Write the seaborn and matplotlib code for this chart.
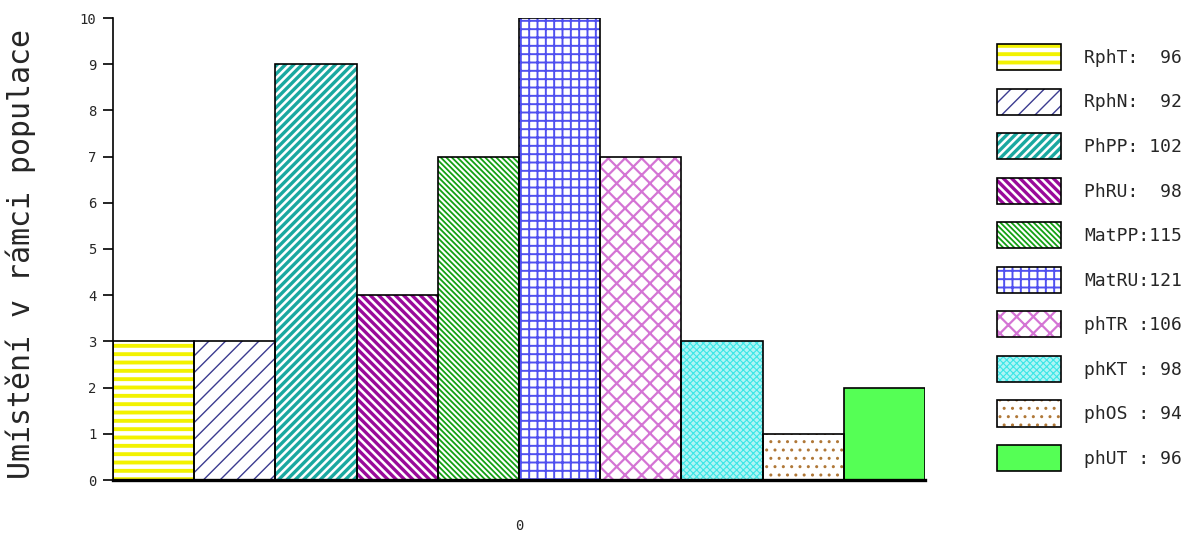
import pandas as pd
import matplotlib
matplotlib.use("Agg")
import matplotlib.pyplot as plt
import seaborn as sns
from matplotlib.patches import Patch, Rectangle
from matplotlib.legend_handler import HandlerTuple

sns.set_theme(style="white")
plt.rcParams["font.family"] = "DejaVu Sans Mono"
plt.rcParams["hatch.linewidth"] = 1.0

# data
skupina = "0"
kody = ["RphT", "RphN", "PhPP", "PhRU", "MatPP", "MatRU", "phTR", "phKT", "phOS", "phUT"]
poradi = [3, 3, 9, 4, 7, 10, 7, 3, 1, 2]
popisky = ["RphT:  96", "RphN:  92", "PhPP: 102", "PhRU:  98", "MatPP:115",
           "MatRU:121", "phTR :106", "phKT : 98", "phOS : 94", "phUT : 96"]

# styl vyplne: barva srafovani, barva pozadi, srafa, tloustka
barvy = ["#f2f200", "#3c3c90", "#1aa8a0", "#9a0a9a", "#14a014",
         "#5050f0", "#d474d4", "#3ce6e6", "#b07838", "#55ff55"]
pozadi = ["white", "white", "white", "white", "white",
          "white", "white", "#aef5f5", "white", "#55ff55"]
srafy = ["--", "//", "////", "\\\\\\\\", "\\\\\\\\\\\\", "++", "xx", "xxxxx", "..", ""]
tloustky = [2.8, 1.0, 2.4, 2.4, 1.3, 1.4, 1.6, 0.8, 1.0, 1.0]

df = pd.DataFrame({"skupina": [skupina] * len(kody), "kod": kody, "poradi": poradi})

fig = plt.figure(figsize=(11.93, 5.34), dpi=100)
ax = fig.add_axes([113 / 1193, 1 - 480 / 534, 812 / 1193, 462 / 534])

# vrstva se srafovanim
sns.barplot(data=df, x="skupina", y="poradi", hue="kod", hue_order=kody,
            palette=barvy, width=0.8, gap=0, legend=False, ax=ax,
            linewidth=0)
vrstva = list(ax.patches)
for p, b, f, h, t in zip(vrstva, barvy, pozadi, srafy, tloustky):
    p.set_facecolor(f)
    p.set_edgecolor(b)
    p.set_linewidth(0)
    p.set_hatch(h)
    if hasattr(p, "set_hatch_linewidth"):
        p.set_hatch_linewidth(t)

# vrstva s cernym obrysem
sns.barplot(data=df, x="skupina", y="poradi", hue="kod", hue_order=kody,
            palette=barvy, width=0.8, gap=0, legend=False, ax=ax, fill=False)
obrysy = [p for p in ax.patches if p not in vrstva]
for p in obrysy:
    p.set_edgecolor("black")
    p.set_linewidth(1.2)

ax.set_xlim(-0.4, 0.4)
ax.set_ylim(0, 10)
ax.set_yticks(range(0, 11))
ax.tick_params(axis="y", left=True, length=7, width=1.2, color="black",
               labelsize=10, pad=5)
ax.tick_params(axis="x", bottom=False, labelsize=10, pad=22)
ax.set_xlabel("")
ax.set_ylabel("Umístění v rámci populace", fontsize=21.5)
ax.yaxis.set_label_coords(-0.095, 0.49)

for s in ["top", "right"]:
    ax.spines[s].set_visible(False)
ax.spines["left"].set_color("black")
ax.spines["left"].set_linewidth(1.2)
ax.spines["bottom"].set_color("black")
ax.spines["bottom"].set_linewidth(2.4)

# legenda
ruce = []
for b, f, h, t in zip(barvy, pozadi, srafy, tloustky):
    vypln = Patch(facecolor=f, edgecolor=b, linewidth=0, hatch=h)
    obrys = Patch(facecolor="none", edgecolor="black", linewidth=1.2)
    ruce.append((vypln, obrys))

leg = fig.legend(ruce, popisky, handler_map={tuple: HandlerTuple(ndivide=1, pad=0)},
                 loc="upper left", bbox_to_anchor=(997 / 1193, 1 - 44 / 534),
                 frameon=False, fontsize=13, borderpad=0, borderaxespad=0,
                 handlelength=3.55, handleheight=1.85,
                 labelspacing=1.02, handletextpad=1.27)

# tloustka srafovani i v legende
tl_podle_srafy = dict(zip(srafy, tloustky))
for r in leg.findobj(Rectangle):
    h = r.get_hatch()
    if h and h in tl_podle_srafy and hasattr(r, "set_hatch_linewidth"):
        r.set_hatch_linewidth(tl_podle_srafy[h])

fig.savefig("out.png", dpi=100)
